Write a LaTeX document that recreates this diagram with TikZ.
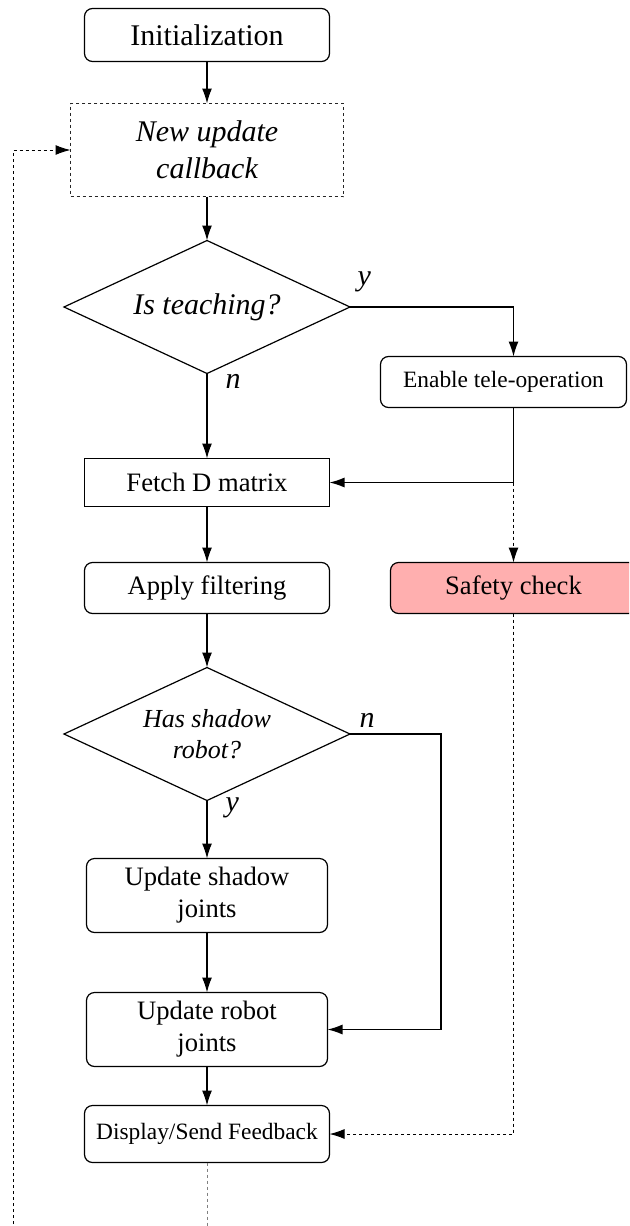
\documentclass[tikz,border=0pt]{standalone}
\usepackage{fontspec}
\setmainfont{Liberation Serif}
\usepackage{xcolor}
\usepackage{tikz}
\usetikzlibrary{shapes,arrows.meta,positioning}
\definecolor{safetycolor}{RGB}{255,175,175}

\begin{document}
\begin{tikzpicture}[
    x=0.5pt, y=-0.5pt,
    line width=0.6pt,
    process/.style={rectangle, rounded corners=4pt, draw, text centered, minimum width=122.5pt, minimum height=25.5pt, inner sep=0pt, outer sep=0pt, font=\fontsize{13.3}{16}\selectfont},
    decision/.style={diamond, draw, text centered, align=center, shape aspect=2.15, minimum width=143pt, minimum height=66.5pt, inner sep=0pt, outer sep=0pt},
    answer/.style={inner sep=0pt, font=\itshape\fontsize{15}{18}\selectfont},
    arrow/.style={-{Latex[length=7.5pt, width=5pt]}},
    dotarrow/.style={arrow, dash pattern=on 1.5pt off 1.5pt, line width=0.5pt}
]
\clip (0,0) rectangle (629,1226);

% Main column
\node[process, minimum height=26.5pt, font=\fontsize{15}{18}\selectfont] (init) at (207,35) {Initialization};
\node[process, sharp corners, draw=black!85, dash pattern=on 1.5pt off 1.5pt, line width=0.5pt, minimum width=136.5pt, minimum height=46.5pt, align=center, font=\itshape\fontsize{15}{18.5}\selectfont, below=21pt of init] (callback) {New update\\callback};
\node[decision, font=\itshape\fontsize{15}{18}\selectfont, below=22pt of callback] (teach) {Is teaching?};
\node[process, sharp corners, minimum height=24pt, below=42.5pt of teach] (fetch) {Fetch D matrix};
\node[process, below=28pt of fetch] (filter) {Apply filtering};
\node[decision, font=\itshape\fontsize{13}{15.5}\selectfont, below=27pt of filter] (shadowq) {Has shadow\\robot?};
\node[process, minimum width=120.5pt, minimum height=37pt, align=center, below=29pt of shadowq] (shadow) {Update shadow\\joints};
\node[process, minimum width=120.5pt, minimum height=37pt, align=center, below=30pt of shadow] (robot) {Update robot\\joints};
\node[process, minimum height=28.5pt, font=\fontsize{11.7}{14}\selectfont, below=19.5pt of robot] (feedback) {Display/Send Feedback};

% Side branch
\node[process, minimum width=123pt, font=\fontsize{11.7}{14}\selectfont, above right=25.5pt and 25.5pt of fetch] (teleop) {Enable tele-operation};
\node[process, minimum width=123pt, fill=safetycolor, right=30.5pt of filter] (safety) {Safety check};

% Answers
\node[answer, anchor=south west] (tyes) at ([xshift=3.5pt, yshift=7pt]teach.east) {y};
\node[answer, anchor=north west] (tno) at ([xshift=9pt]teach.south) {n};
\node[answer, anchor=south west] (sno) at ([xshift=4.5pt, yshift=3pt]shadowq.east) {n};
\node[answer, anchor=north west] (syes) at ([xshift=9pt, yshift=1.5pt]shadowq.south) {y};

% Arrows
\draw[arrow] (init) -- (callback);
\draw[arrow] (callback) -- (teach);
\draw[arrow] (teach) -- (fetch);
\draw[arrow] (fetch) -- (filter);
\draw[arrow] (filter) -- (shadowq);
\draw[arrow] (shadowq) -- (shadow);
\draw[arrow] (shadow) -- (robot);
\draw[arrow] (robot) -- (feedback);

\draw[arrow] (teach.east) -| (teleop.north -| safety.north);
\draw[arrow] (teleop.south -| safety.north) |- (fetch.east);
\coordinate (split) at (fetch.east -| safety.north);
\draw[dotarrow] (split) -- (safety.north);
\draw[dotarrow] (safety.south) |- (feedback.east);
\draw[arrow] (shadowq.east) -- ++(91,0) |- (robot.east);

% Loop back
\coordinate (loopend) at ([yshift=-60pt]feedback.south);
\draw[gray, dash pattern=on 1.5pt off 1.5pt, line width=0.4pt] (feedback.south) -- (loopend);
\draw[dotarrow] (loopend) -| ([xshift=-28.5pt]callback.west) -- (callback.west);

\end{tikzpicture}
\end{document}
